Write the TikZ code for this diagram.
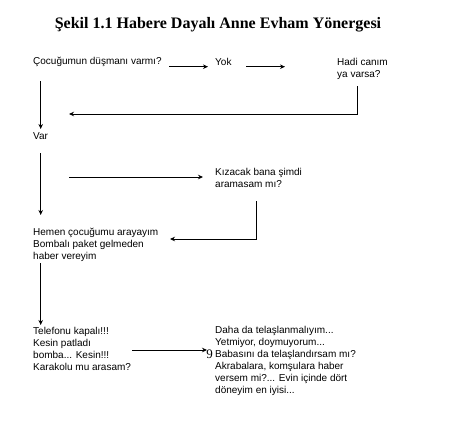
\documentclass[tikz,border=0pt]{standalone}
\usepackage{fontspec}
\setmainfont{Liberation Serif}
\newfontfamily\arialf{Liberation Sans}
\usetikzlibrary{arrows.meta}
\tikzset{
  lbl/.style={anchor=west,inner sep=0pt,align=left,font=\arialf\fontsize{10}{12}\selectfont},
  arr/.style={-{Stealth[length=5pt,width=4.5pt]},line width=0.8pt},
  ln/.style={line width=0.8pt}
}
\begin{document}
\begin{tikzpicture}[x=1pt,y=-1pt]
\fill[white] (0,0) rectangle (465,423);
\useasboundingbox (0,0) rectangle (465,423);
\node[inner sep=0pt,font=\bfseries\fontsize{16}{19}\selectfont] (title) at (218,25) {Şekil 1.1 Habere Dayalı Anne Evham Yönergesi};
\node[lbl] (q1) at (33,62) {Çocuğumun düşmanı varmı?};
\node[lbl] (yok) at (215,62) {Yok};
\node[lbl] (hadi) at (337,68.5) {Hadi canım\\ya varsa?};
\node[lbl] (var) at (33,136) {Var};
\node[lbl] (kiz) at (215,178) {Kızacak bana şimdi\\aramasam mı?};
\node[lbl] (hemen) at (33,245) {Hemen çocuğumu arayayım\\Bombalı paket gelmeden\\haber vereyim};
\node[lbl] (tel) at (33,349) {Telefonu kapalı!!!\\Kesin patladı\\bomba... Kesin!!!\\Karakolu mu arasam?};
\node[lbl] (daha) at (215,361) {Daha da telaşlanmalıyım...\\Yetmiyor, doymuyorum...\\Babasını da telaşlandırsam mı?\\Akrabalara, komşulara haber\\versem mi?... Evin içinde dört\\döneyim en iyisi...};
\node[inner sep=0pt,font=\fontsize{13}{13}\selectfont] (nine) at (209.5,354.5) {9};
% connector end points
\coordinate (a1s) at (169,66.7); \coordinate (a1e) at (208,66.7);
\coordinate (a2s) at (246,66.7); \coordinate (a2e) at (285,66.7);
\coordinate (h1) at (357,86); \coordinate (h2) at (357,114); \coordinate (h3) at (69,114);
\coordinate (v1s) at (40.7,81); \coordinate (v1e) at (40.7,129);
\coordinate (v2s) at (40.7,153); \coordinate (v2e) at (40.7,215);
\coordinate (k0) at (69,177); \coordinate (k1) at (203,177);
\coordinate (kz1) at (256,201); \coordinate (kz2) at (256,239); \coordinate (kz3) at (170,239);
\coordinate (v3s) at (40.7,263); \coordinate (v3e) at (40.7,325);
\coordinate (ts) at (132,350); \coordinate (te) at (207,350);
\draw[arr] (a1s) -- (a1e);
\draw[arr] (a2s) -- (a2e);
\draw[arr] (h1) -- (h2) -- (h3);
\draw[arr] (v1s) -- (v1e);
\draw[arr] (v2s) -- (v2e);
\draw[arr] (k0) -- (k1);
\draw[arr] (kz1) -- (kz2) -- (kz3);
\draw[arr] (v3s) -- (v3e);
\draw[arr] (ts) -- (te);
\end{tikzpicture}
\end{document}
